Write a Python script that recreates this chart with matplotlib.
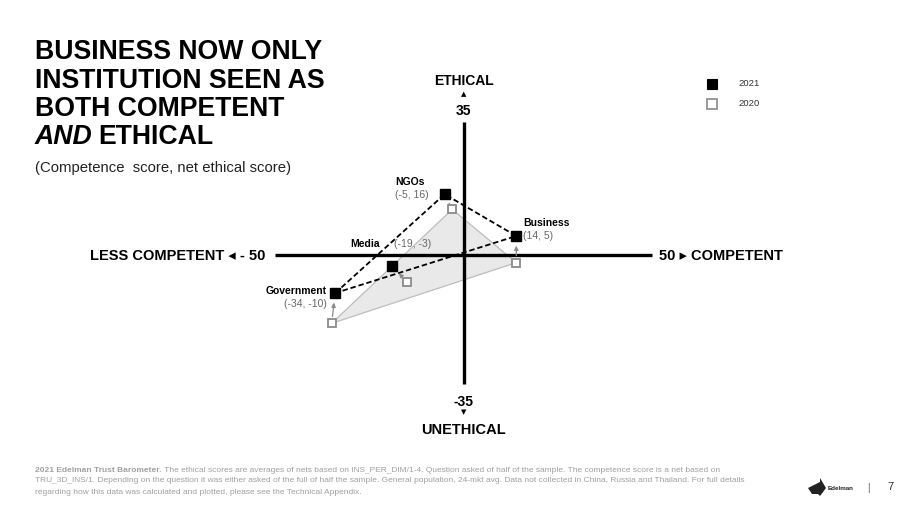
import matplotlib
matplotlib.use("Agg")
import matplotlib.pyplot as plt
from matplotlib.patches import Polygon

plt.rcParams['font.family'] = ['Liberation Sans', 'DejaVu Sans']

# ---- data ----
institutions = ["Government", "NGOs", "Business", "Media"]
comp_2021 = [-34, -5, 14, -19]
eth_2021 = [-10, 16, 5, -3]
comp_2020 = [-35, -3, 14, -15]
eth_2020 = [-18, 12, -2, -7]
coord_labels = ["(-34, -10)", "(-5, 16)", "(14, 5)", "(-19, -3)"]
legend_labels = ["2021", "2020"]

W, H = 908, 508
fig = plt.figure(figsize=(W / 100, H / 100), dpi=100)
fig.patch.set_facecolor("white")

def fx(px):
    return px / W

def fy(py):
    return 1 - py / H

# axes spanning data range
left_px, right_px, top_px, bot_px = 275, 652, 122, 388
ax = fig.add_axes([fx(left_px), fy(bot_px), (right_px - left_px) / W, (bot_px - top_px) / H])
ax.set_xlim(-50, 50)
ax.set_ylim(-35, 35)
ax.axis("off")

idx = {n: i for i, n in enumerate(institutions)}
tri = ["Government", "NGOs", "Business"]

# 2020 shaded triangle
poly = Polygon([(comp_2020[idx[n]], eth_2020[idx[n]]) for n in tri], closed=True,
               facecolor="#e9e9e9", edgecolor="#bdbdbd", lw=0.9, zorder=1)
ax.add_patch(poly)

# axis lines
ax.plot([-50, 50], [0, 0], color="black", lw=2.4, zorder=2, clip_on=False, solid_capstyle="butt")
ax.plot([0, 0], [-34, 35], color="black", lw=2.4, zorder=2, clip_on=False, solid_capstyle="butt")

# 2021 dashed triangle
tx = [comp_2021[idx[n]] for n in tri] + [comp_2021[idx[tri[0]]]]
ty = [eth_2021[idx[n]] for n in tri] + [eth_2021[idx[tri[0]]]]
ax.plot(tx, ty, color="black", lw=1.3, ls=(0, (3, 1.6)), zorder=3, clip_on=False)

# arrows 2020 -> 2021
for i in range(len(institutions)):
    ax.annotate("", xy=(comp_2021[i], eth_2021[i]), xytext=(comp_2020[i], eth_2020[i]),
                arrowprops=dict(arrowstyle="-|>", color="#8a8a8a", lw=0.9,
                                shrinkA=5, shrinkB=7, mutation_scale=6),
                zorder=4)

# markers
ax.plot(comp_2020, eth_2020, ls="none", marker="s", ms=6.3, mfc="white",
        mec="#8a8a8a", mew=1.3, zorder=5, clip_on=False)
ax.plot(comp_2021, eth_2021, ls="none", marker="s", ms=7.6, mfc="black",
        mec="black", zorder=6, clip_on=False)

# point labels
lab_fs = 7.5
grey = "#666666"
ax.text(-36.2, -9.6, "Government", ha="right", va="center", fontsize=lab_fs, fontweight="bold")
ax.text(-36.2, -13.0, coord_labels[0], ha="right", va="center", fontsize=lab_fs, color=grey)
ax.text(-18.2, 19.1, "NGOs", ha="left", va="center", fontsize=lab_fs, fontweight="bold")
ax.text(-18.2, 15.9, coord_labels[1], ha="left", va="center", fontsize=lab_fs, color=grey)
ax.text(15.8, 8.3, "Business", ha="left", va="center", fontsize=lab_fs, fontweight="bold")
ax.text(15.8, 4.9, coord_labels[2], ha="left", va="center", fontsize=lab_fs, color=grey)
ax.text(-30.1, 2.8, "Media", ha="left", va="center", fontsize=lab_fs, fontweight="bold")
ax.text(-18.4, 2.8, coord_labels[3], ha="left", va="center", fontsize=lab_fs, color=grey)

# axis labels
axfs = 10.5
ax.text(0, 45.9, "ETHICAL", ha="center", va="center", fontsize=10, fontweight="bold")
ax.text(0, 42.4, "▲", ha="center", va="center", fontsize=5, family=["DejaVu Sans"])
ax.text(0, 37.8, "35", ha="center", va="center", fontsize=10, fontweight="bold")
ax.text(0, -38.7, "-35", ha="center", va="center", fontsize=10, fontweight="bold")
ax.text(0, -41.4, "▼", ha="center", va="center", fontsize=5, family=["DejaVu Sans"])
ax.text(0, -46.0, "UNETHICAL", ha="center", va="center", fontsize=axfs, fontweight="bold")
fig.text(fx(265), fy(256), "LESS COMPETENT \u25C2 - 50", ha="right", va="center",
         fontsize=axfs, fontweight="bold", family=["Liberation Sans", "DejaVu Sans"])
fig.text(fx(659), fy(256), "50 \u25B8 COMPETENT", ha="left", va="center",
         fontsize=axfs, fontweight="bold", family=["Liberation Sans", "DejaVu Sans"])

# title
tfs = 19.2
title_lines = ["BUSINESS NOW ONLY", "INSTITUTION SEEN AS", "BOTH COMPETENT"]
ys = [52, 81, 109]
for t, y in zip(title_lines, ys):
    fig.text(fx(35), fy(y), t, ha="left", va="center", fontsize=tfs, fontweight="bold")
t_and = fig.text(fx(35), fy(137), "AND", ha="left", va="center", fontsize=tfs,
                 fontweight="bold", style="italic")
fig.canvas.draw()
r = fig.canvas.get_renderer()
bb = t_and.get_window_extent(r)
fig.text(bb.x1 / W + fx(6), fy(137), "ETHICAL", ha="left", va="center", fontsize=tfs, fontweight="bold")
fig.text(fx(35), fy(168), "(Competence  score, net ethical score)", ha="left", va="center",
         fontsize=10.7, color="#222222")

# legend
fig.patches.append(plt.Rectangle((fx(707), fy(89)), 10 / W, 10 / H, transform=fig.transFigure,
                                 facecolor="black", edgecolor="black", lw=0.8))
fig.patches.append(plt.Rectangle((fx(707), fy(109)), 10 / W, 10 / H, transform=fig.transFigure,
                                 facecolor="white", edgecolor="#8a8a8a", lw=1.2))
fig.text(fx(738), fy(84), legend_labels[0], ha="left", va="center", fontsize=6.8, color="#333333")
fig.text(fx(738), fy(104), legend_labels[1], ha="left", va="center", fontsize=6.8, color="#333333")

# footer
ffs = 6.05
fcol = "#a0a0a0"
b = fig.text(fx(35), fy(470), "2021 Edelman Trust Barometer.", ha="left", va="center",
             fontsize=ffs, color=fcol, fontweight="bold")
fig.canvas.draw()
bb = b.get_window_extent(fig.canvas.get_renderer())
fig.text(bb.x1 / W, fy(470),
         " The ethical scores are averages of nets based on INS_PER_DIM/1-4. Question asked of half of the sample. The competence score is a net based on",
         ha="left", va="center", fontsize=ffs, color=fcol)
fig.text(fx(35), fy(481),
         "TRU_3D_INS/1. Depending on the question it was either asked of the full of half the sample. General population, 24-mkt avg. Data not collected in China, Russia and Thailand. For full details",
         ha="left", va="center", fontsize=ffs, color=fcol)
fig.text(fx(35), fy(492),
         "regarding how this data was calculated and plotted, please see the Technical Appendix.",
         ha="left", va="center", fontsize=ffs, color=fcol)

# Edelman logo (simple)
logo = Polygon([(fx(808), fy(488)), (fx(820), fy(482)), (fx(820), fy(478)), (fx(826), fy(488)),
                (fx(820), fy(496)), (fx(818), fy(494)), (fx(812), fy(494))],
               closed=True, transform=fig.transFigure, facecolor="#222222", edgecolor="none")
fig.patches.append(logo)
fig.text(fx(828), fy(488), "Edelman", ha="left", va="center", fontsize=4.5, fontweight="bold", color="#222222")
fig.text(fx(868), fy(488), "|", ha="center", va="center", fontsize=7, color="#555555")
fig.text(fx(890), fy(487), "7", ha="center", va="center", fontsize=8, color="#333333")

fig.savefig("out.png", dpi=100, facecolor="white")
